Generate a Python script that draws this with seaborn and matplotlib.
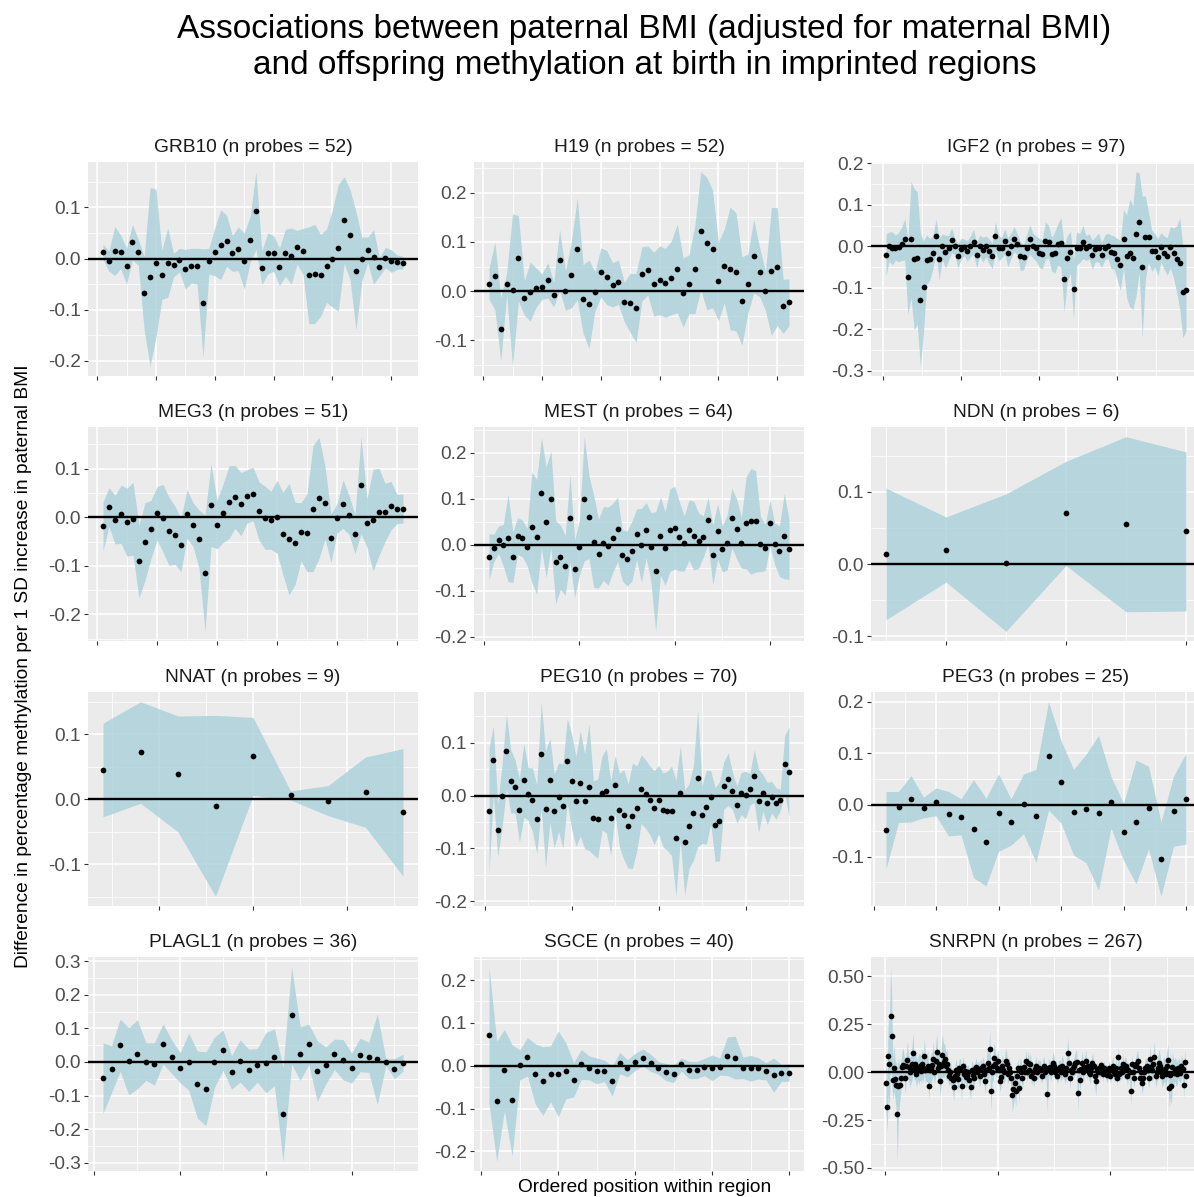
import numpy as np
import pandas as pd
import seaborn as sns
import matplotlib.pyplot as plt
from matplotlib.ticker import MultipleLocator, FormatStrFormatter, NullFormatter

# estimate (est) and 95% CI half-width (ci) per probe, ordered by position
regions = ["GRB10", "H19", "IGF2", "MEG3", "MEST", "NDN",
           "NNAT", "PEG10", "PEG3", "PLAGL1", "SGCE", "SNRPN"]

grb10_est = [0.013, -0.005, 0.015, 0.013, -0.015, 0.032, 0.012, -0.068, -0.036, -0.009,
             -0.032, -0.008, -0.013, -0.003, -0.021, -0.014, -0.015, -0.087, -0.005, 0.013,
             0.027, 0.035, 0.010, 0.019, -0.005, 0.037, 0.094, -0.018, 0.010, 0.010,
             -0.016, 0.011, 0.005, 0.022, 0.014, -0.033, -0.030, -0.033, -0.014, 0.000,
             0.021, 0.075, 0.047, -0.024, -0.001, 0.017, 0.003, -0.016, 0.002, -0.005,
             -0.007, -0.008]
grb10_ci = [0.015, 0.020, 0.048, 0.033, 0.035, 0.035, 0.025, 0.072, 0.175, 0.145,
            0.048, 0.068, 0.023, 0.023, 0.039, 0.034, 0.035, 0.106, 0.025, 0.047,
            0.068, 0.050, 0.035, 0.043, 0.055, 0.045, 0.076, 0.033, 0.040, 0.035,
            0.037, 0.046, 0.055, 0.033, 0.045, 0.095, 0.097, 0.080, 0.072, 0.095,
            0.124, 0.085, 0.088, 0.116, 0.043, 0.025, 0.053, 0.018, 0.020, 0.022,
            0.014, 0.012]

h19_est = [0.015, 0.031, -0.078, 0.015, 0.002, 0.067, -0.014, -0.001, 0.007, 0.009,
           0.022, -0.007, 0.063, 0.001, 0.033, 0.086, -0.016, -0.027, -0.001, 0.038,
           0.028, 0.013, 0.018, -0.022, -0.024, -0.034, 0.035, 0.042, 0.014, 0.022,
           0.017, 0.027, 0.046, -0.003, 0.014, 0.044, 0.123, 0.097, 0.086, 0.020,
           0.051, 0.046, 0.039, -0.020, 0.015, 0.071, 0.039, 0.000, 0.040, 0.050,
           -0.031, -0.023]
h19_ci = [0.031, 0.069, 0.065, 0.022, 0.155, 0.087, 0.035, 0.060, 0.040, 0.026,
          0.036, 0.025, 0.062, 0.040, 0.067, 0.104, 0.070, 0.090, 0.040, 0.050,
          0.055, 0.045, 0.045, 0.040, 0.060, 0.070, 0.055, 0.050, 0.065, 0.070,
          0.070, 0.075, 0.090, 0.070, 0.060, 0.090, 0.120, 0.135, 0.120, 0.080,
          0.075, 0.125, 0.120, 0.090, 0.060, 0.075, 0.050, 0.040, 0.130, 0.120,
          0.055, 0.048]

igf2_est = [-0.021, 0.000, -0.005, -0.003, -0.002, 0.006, 0.017, -0.074, 0.017, -0.031,
            -0.028, -0.129, -0.097, -0.032, -0.031, -0.015, 0.026, -0.031, 0.000, -0.013,
            -0.004, 0.015, 0.000, -0.022, -0.006, -0.002, -0.011, 0.000, 0.011, -0.021,
            0.002, -0.008, 0.000, -0.012, -0.023, 0.024, -0.005, -0.003, 0.012, -0.015,
            0.002, 0.018, 0.005, -0.024, -0.026, -0.003, 0.017, 0.002, -0.005, -0.015,
            -0.019, 0.014, 0.011, -0.019, -0.015, 0.005, 0.009, -0.078, -0.029, -0.014,
            -0.103, -0.005, -0.004, 0.011, -0.004, 0.000, -0.020, -0.007, -0.003, -0.021,
            -0.003, 0.002, -0.013, -0.015, -0.031, -0.046, 0.018, -0.024, -0.016, -0.027,
            0.030, 0.058, -0.049, 0.022, 0.022, -0.010, -0.010, -0.026, -0.002, -0.015,
            -0.024, -0.002, -0.016, -0.031, -0.041, -0.110, -0.104]
igf2_ci = [0.050, 0.035, 0.040, 0.030, 0.035, 0.040, 0.050, 0.090, 0.140, 0.170,
           0.160, 0.160, 0.110, 0.060, 0.050, 0.040, 0.040, 0.050, 0.030, 0.040,
           0.030, 0.030, 0.020, 0.030, 0.025, 0.020, 0.025, 0.025, 0.030, 0.030,
           0.025, 0.030, 0.025, 0.030, 0.030, 0.035, 0.030, 0.025, 0.030, 0.035,
           0.030, 0.030, 0.025, 0.035, 0.030, 0.030, 0.035, 0.030, 0.030, 0.035,
           0.035, 0.045, 0.040, 0.040, 0.050, 0.050, 0.060, 0.080, 0.055, 0.050,
           0.070, 0.040, 0.035, 0.040, 0.030, 0.030, 0.035, 0.030, 0.035, 0.030,
           0.030, 0.030, 0.040, 0.040, 0.050, 0.060, 0.070, 0.100, 0.130, 0.125,
           0.150, 0.120, 0.170, 0.100, 0.060, 0.050, 0.040, 0.045, 0.035, 0.040,
           0.045, 0.050, 0.060, 0.080, 0.110, 0.110, 0.100]

meg3_est = [-0.019, 0.021, -0.005, 0.006, -0.010, -0.003, -0.091, -0.050, -0.025, 0.008,
            -0.002, -0.029, -0.037, -0.057, 0.007, -0.015, -0.045, -0.115, 0.025, -0.015,
            0.008, 0.031, 0.042, 0.027, 0.043, 0.048, 0.013, -0.001, -0.006, 0.001,
            -0.034, -0.045, -0.054, -0.030, -0.032, 0.018, 0.040, 0.030, -0.043, -0.002,
            0.027, 0.005, -0.035, 0.066, -0.012, -0.006, 0.011, 0.010, 0.024, 0.017,
            0.018]
meg3_ci = [0.050, 0.040, 0.050, 0.060, 0.070, 0.075, 0.075, 0.080, 0.060, 0.055,
           0.070, 0.070, 0.060, 0.055, 0.050, 0.045, 0.060, 0.120, 0.085, 0.050,
           0.060, 0.075, 0.065, 0.065, 0.055, 0.055, 0.060, 0.065, 0.060, 0.075,
           0.085, 0.115, 0.085, 0.060, 0.080, 0.130, 0.125, 0.075, 0.050, 0.030,
           0.050, 0.040, 0.040, 0.100, 0.050, 0.105, 0.090, 0.060, 0.050, 0.030,
           0.030]

mest_est = [-0.026, -0.007, 0.011, -0.001, 0.015, -0.027, 0.019, 0.014, -0.005, 0.038,
            0.017, 0.113, 0.049, 0.099, -0.038, -0.027, -0.045, 0.058, -0.052, -0.005,
            0.100, 0.060, 0.007, -0.019, 0.003, -0.003, 0.015, 0.034, -0.023, -0.030,
            -0.014, 0.023, -0.001, 0.032, -0.005, -0.058, 0.019, -0.008, 0.032, 0.037,
            0.018, 0.003, 0.032, 0.020, 0.009, 0.018, 0.053, -0.022, 0.029, -0.009,
            0.005, 0.058, 0.035, 0.004, 0.048, 0.051, 0.051, 0.002, -0.006, 0.048,
            0.002, -0.014, 0.019, -0.010]
mest_ci = [0.050, 0.030, 0.030, 0.045, 0.095, 0.055, 0.040, 0.040, 0.040, 0.120,
           0.125, 0.120, 0.120, 0.105, 0.090, 0.070, 0.065, 0.095, 0.062, 0.060,
           0.135, 0.090, 0.100, 0.075, 0.080, 0.085, 0.075, 0.070, 0.055, 0.060,
           0.065, 0.055, 0.080, 0.060, 0.075, 0.130, 0.085, 0.080, 0.090, 0.090,
           0.075, 0.060, 0.065, 0.075, 0.060, 0.045, 0.050, 0.065, 0.060, 0.050,
           0.060, 0.065, 0.065, 0.055, 0.100, 0.115, 0.110, 0.060, 0.050, 0.050,
           0.045, 0.055, 0.093, 0.065]

ndn_est = [0.014, 0.020, 0.002, 0.070, 0.055, 0.045]
ndn_ci = [0.091, 0.045, 0.095, 0.072, 0.121, 0.110]

nnat_est = [0.045, 0.072, 0.039, -0.010, 0.066, 0.006, -0.002, 0.011, -0.020]
nnat_ci = [0.072, 0.078, 0.089, 0.139, 0.060, 0.007, 0.023, 0.054, 0.098]

peg10_est = [-0.029, 0.067, -0.066, -0.001, 0.084, 0.027, 0.017, -0.028, 0.029, 0.003,
             -0.008, -0.045, 0.078, -0.026, 0.029, -0.029, -0.003, -0.020, 0.066, 0.027,
             -0.011, 0.023, -0.011, 0.016, -0.042, -0.044, 0.005, 0.009, -0.043, 0.021,
             -0.028, -0.036, -0.058, -0.038, -0.024, 0.012, 0.003, -0.009, -0.023, -0.008,
             -0.027, -0.029, -0.029, -0.081, 0.004, -0.089, -0.058, -0.033, 0.033, -0.036,
             -0.022, -0.003, -0.055, -0.049, 0.019, 0.031, 0.009, -0.017, 0.004, 0.001,
             0.012, 0.037, -0.010, 0.005, -0.015, -0.003, -0.015, -0.008, 0.059, 0.045]
peg10_ci = [0.120, 0.065, 0.050, 0.060, 0.070, 0.060, 0.050, 0.060, 0.070, 0.050,
            0.060, 0.065, 0.100, 0.110, 0.080, 0.070, 0.065, 0.080, 0.080, 0.090,
            0.085, 0.100, 0.090, 0.120, 0.070, 0.075, 0.070, 0.080, 0.070, 0.055,
            0.070, 0.085, 0.080, 0.100, 0.080, 0.065, 0.065, 0.065, 0.070, 0.065,
            0.070, 0.075, 0.085, 0.110, 0.090, 0.100, 0.080, 0.090, 0.130, 0.055,
            0.070, 0.050, 0.070, 0.075, 0.045, 0.050, 0.035, 0.035, 0.040, 0.045,
            0.030, 0.050, 0.060, 0.035, 0.040, 0.030, 0.030, 0.020, 0.055, 0.085]

peg3_est = [-0.049, -0.004, 0.012, -0.005, 0.006, -0.017, -0.023, -0.046, -0.072, -0.015,
            -0.033, 0.002, -0.021, 0.095, 0.045, -0.014, -0.007, -0.015, 0.005, -0.052,
            -0.033, -0.005, -0.105, -0.012, 0.012]
peg3_ci = [0.075, 0.030, 0.045, 0.020, 0.027, 0.043, 0.035, 0.095, 0.085, 0.075,
           0.045, 0.058, 0.090, 0.105, 0.080, 0.083, 0.105, 0.150, 0.050, 0.055,
           0.120, 0.080, 0.072, 0.068, 0.088]

plagl1_est = [-0.048, -0.021, 0.050, 0.002, 0.023, 0.001, -0.006, 0.054, 0.016, -0.017,
              0.001, -0.067, -0.080, -0.001, 0.035, -0.031, 0.003, -0.025, -0.010, -0.002,
              0.014, -0.156, 0.139, 0.025, 0.053, -0.027, -0.010, 0.023, 0.007, -0.018,
              0.021, 0.014, 0.008, 0.000, -0.020, -0.002]
plagl1_ci = [0.105, 0.070, 0.078, 0.100, 0.103, 0.056, 0.063, 0.060, 0.050, 0.045,
             0.085, 0.100, 0.110, 0.075, 0.060, 0.050, 0.063, 0.063, 0.050, 0.090,
             0.085, 0.140, 0.145, 0.080, 0.060, 0.090, 0.055, 0.045, 0.060, 0.045,
             0.050, 0.045, 0.135, 0.010, 0.030, 0.025]

sgce_est = [0.071, -0.083, -0.010, -0.081, 0.002, 0.021, -0.019, -0.036, -0.019, -0.019,
            -0.012, -0.033, 0.003, -0.005, -0.012, -0.012, -0.036, 0.006, -0.006, 0.009,
            0.019, 0.007, -0.005, -0.015, -0.019, 0.003, -0.010, -0.010, -0.003, -0.005,
            -0.002, 0.022, 0.019, -0.005, -0.006, -0.006, -0.013, -0.022, -0.017, -0.016]
sgce_ci = [0.160, 0.140, 0.095, 0.130, 0.035, 0.045, 0.070, 0.080, 0.065, 0.100,
           0.065, 0.040, 0.035, 0.028, 0.030, 0.025, 0.035, 0.025, 0.020, 0.020,
           0.020, 0.020, 0.015, 0.020, 0.020, 0.015, 0.020, 0.020, 0.020, 0.030,
           0.020, 0.045, 0.050, 0.025, 0.030, 0.025, 0.020, 0.040, 0.020, 0.020]

snrpn_est = [-0.057, -0.182, 0.083, 0.043, 0.293, 0.190, -0.043, 0.022, -0.035, -0.068,
             -0.220, -0.071, -0.066, -0.030, 0.026, 0.038, 0.030, -0.031, 0.030, 0.062,
             0.026, 0.000, 0.012, 0.045, 0.102, 0.018, 0.043, -0.010, 0.020, 0.015,
             0.030, 0.005, 0.045, 0.020, 0.085, 0.010, 0.020, 0.030, -0.072, 0.010,
             0.020, 0.035, 0.070, 0.000, 0.060, 0.103, 0.020, 0.040, -0.045, 0.030,
             0.090, 0.055, 0.070, 0.030, 0.045, 0.010, -0.020, 0.000, -0.030, -0.040,
             -0.080, -0.020, 0.010, -0.010, -0.035, 0.020, 0.010, -0.070, 0.030, -0.010,
             0.005, -0.025, -0.020, 0.000, -0.040, -0.080, 0.010, -0.015, -0.030, 0.015,
             0.025, 0.000, 0.010, -0.020, 0.020, 0.010, 0.030, -0.010, -0.045, 0.010,
             0.050, 0.020, 0.120, -0.100, 0.000, 0.030, 0.075, 0.040, 0.020, 0.060,
             0.010, -0.045, -0.025, 0.030, 0.010, 0.000, 0.060, 0.040, -0.010, 0.020,
             0.000, -0.030, -0.120, -0.090, -0.055, -0.100, -0.020, 0.020, -0.085, 0.020,
             0.000, -0.030, 0.025, 0.000, 0.060, 0.000, 0.050, 0.010, 0.040, -0.020,
             0.000, -0.030, 0.015, 0.030, 0.000, 0.015, 0.020, 0.010, -0.020, 0.015,
             0.030, 0.000, 0.010, -0.115, 0.020, 0.025, 0.000, 0.020, 0.050, 0.030,
             0.000, 0.015, -0.020, 0.010, 0.025, 0.000, 0.030, 0.020, 0.000, -0.010,
             0.020, 0.100, 0.050, -0.030, 0.010, 0.000, 0.020, 0.030, 0.050, 0.055,
             -0.110, 0.010, -0.040, 0.015, 0.050, 0.000, 0.025, 0.060, 0.015, 0.030,
             0.000, -0.010, 0.020, 0.050, 0.030, -0.020, -0.045, 0.010, 0.000, 0.020,
             0.000, 0.035, -0.010, 0.020, 0.010, 0.000, -0.015, 0.000, 0.020, -0.020,
             0.010, 0.030, 0.000, -0.010, 0.020, -0.030, 0.080, -0.010, 0.020, 0.000,
             0.040, 0.010, 0.030, 0.030, -0.020, 0.010, 0.000, -0.100, 0.040, 0.000,
             -0.030, 0.030, 0.040, 0.060, 0.020, -0.030, 0.000, -0.055, -0.030, 0.000,
             0.020, 0.030, 0.010, -0.030, 0.070, 0.025, 0.010, 0.040, 0.080, -0.020,
             0.000, 0.020, 0.050, 0.030, 0.000, -0.020, 0.010, 0.015, -0.010, 0.030,
             0.065, -0.085, -0.015, -0.070, 0.025, -0.005, 0.015, 0.000, -0.010, 0.020,
             0.010, -0.005, 0.030, 0.015, -0.065, 0.055, -0.020]
snrpn_ci = [0.15, 0.13, 0.20, 0.22, 0.257, 0.22, 0.10, 0.12, 0.10, 0.12,
            0.245, 0.15, 0.10, 0.08, 0.07, 0.09, 0.06, 0.08, 0.07, 0.10,
            0.06, 0.08, 0.07, 0.09, 0.10, 0.06, 0.08, 0.07, 0.06, 0.08,
            0.07, 0.06, 0.08, 0.07, 0.09, 0.06, 0.07, 0.08, 0.07, 0.06,
            0.08, 0.07, 0.09, 0.06, 0.08, 0.10, 0.07, 0.09, 0.08, 0.10,
            0.11, 0.09, 0.08, 0.07, 0.08, 0.06, 0.05, 0.06, 0.05, 0.06,
            0.07, 0.05, 0.06, 0.05, 0.07, 0.05, 0.06, 0.08, 0.05, 0.06,
            0.05, 0.06, 0.05, 0.04, 0.06, 0.07, 0.05, 0.06, 0.05, 0.04,
            0.05, 0.04, 0.05, 0.06, 0.05, 0.04, 0.05, 0.06, 0.07, 0.06,
            0.08, 0.07, 0.10, 0.11, 0.06, 0.07, 0.08, 0.06, 0.05, 0.06,
            0.05, 0.06, 0.05, 0.06, 0.05, 0.06, 0.07, 0.06, 0.05, 0.06,
            0.05, 0.06, 0.09, 0.08, 0.07, 0.08, 0.06, 0.05, 0.08, 0.06,
            0.05, 0.06, 0.05, 0.04, 0.06, 0.05, 0.06, 0.05, 0.06, 0.05,
            0.04, 0.05, 0.04, 0.05, 0.04, 0.05, 0.04, 0.05, 0.04, 0.05,
            0.05, 0.04, 0.05, 0.10, 0.05, 0.04, 0.05, 0.04, 0.06, 0.05,
            0.04, 0.05, 0.04, 0.05, 0.04, 0.05, 0.06, 0.05, 0.04, 0.05,
            0.05, 0.08, 0.06, 0.05, 0.04, 0.05, 0.04, 0.05, 0.06, 0.06,
            0.09, 0.05, 0.06, 0.05, 0.06, 0.05, 0.04, 0.06, 0.05, 0.04,
            0.04, 0.05, 0.04, 0.05, 0.04, 0.05, 0.08, 0.04, 0.03, 0.04,
            0.04, 0.03, 0.04, 0.04, 0.03, 0.04, 0.04, 0.03, 0.04, 0.04,
            0.04, 0.05, 0.04, 0.04, 0.05, 0.04, 0.06, 0.04, 0.05, 0.04,
            0.05, 0.04, 0.05, 0.04, 0.05, 0.04, 0.05, 0.07, 0.05, 0.04,
            0.05, 0.04, 0.05, 0.06, 0.05, 0.05, 0.04, 0.06, 0.05, 0.04,
            0.05, 0.04, 0.05, 0.06, 0.07, 0.05, 0.06, 0.07, 0.08, 0.06,
            0.05, 0.06, 0.07, 0.06, 0.05, 0.06, 0.07, 0.06, 0.07, 0.08,
            0.08, 0.10, 0.12, 0.10, 0.08, 0.07, 0.06, 0.07, 0.06, 0.05,
            0.06, 0.05, 0.06, 0.05, 0.07, 0.06, 0.05]

series = {
    "GRB10": (grb10_est, grb10_ci), "H19": (h19_est, h19_ci),
    "IGF2": (igf2_est, igf2_ci), "MEG3": (meg3_est, meg3_ci),
    "MEST": (mest_est, mest_ci), "NDN": (ndn_est, ndn_ci),
    "NNAT": (nnat_est, nnat_ci), "PEG10": (peg10_est, peg10_ci),
    "PEG3": (peg3_est, peg3_ci), "PLAGL1": (plagl1_est, plagl1_ci),
    "SGCE": (sgce_est, sgce_ci), "SNRPN": (snrpn_est, snrpn_ci),
}

# axis break spacing per facet (x, y)
x_step = {"GRB10": 10, "H19": 10, "IGF2": 25, "MEG3": 10, "MEST": 20, "NDN": 2,
          "NNAT": 2.5, "PEG10": 20, "PEG3": 5, "PLAGL1": 10, "SGCE": 10, "SNRPN": 100}
y_step = {r: 0.1 for r in regions}
y_step["SNRPN"] = 0.25

sns.set_theme(style="darkgrid")
plt.rcParams["font.family"] = ["Liberation Sans", "DejaVu Sans"]
plt.rcParams["text.color"] = "black"

W, H = 1194, 1197
fig = plt.figure(figsize=(W / 100, H / 100), dpi=100)

col_left = [88, 474, 871]
row_top = [162, 427, 692, 957]
pw, ph = 330, 214
ribbon = "#A9D0D9"

for k, reg in enumerate(regions):
    r, c = divmod(k, 3)
    est, ci = series[reg]
    n = len(est)
    df = pd.DataFrame({"pos": np.arange(1, n + 1), "est": est, "ci": ci})
    df["lo"] = df["est"] - df["ci"]
    df["hi"] = df["est"] + df["ci"]

    ax = fig.add_axes([col_left[c] / W, 1 - (row_top[r] + ph) / H, pw / W, ph / H])
    ax.set_facecolor("#EBEBEB")
    ax.fill_between(df["pos"], df["lo"], df["hi"], color=ribbon, alpha=0.8, lw=0, zorder=2)
    ax.axhline(0, color="black", lw=1.7, zorder=3)
    sns.scatterplot(data=df, x="pos", y="est", ax=ax, color="black", s=17,
                    linewidth=0, legend=False, zorder=4)

    # ggplot-like 5% expansion of free scales
    xpad = 0.05 * (n - 1)
    ax.set_xlim(1 - xpad, n + xpad)
    lo, hi = df["lo"].min(), df["hi"].max()
    ypad = 0.05 * (hi - lo)
    ax.set_ylim(lo - ypad, hi + ypad)

    ax.xaxis.set_major_locator(MultipleLocator(x_step[reg]))
    ax.xaxis.set_minor_locator(MultipleLocator(x_step[reg] / 2))
    ax.xaxis.set_major_formatter(NullFormatter())
    ax.yaxis.set_major_locator(MultipleLocator(y_step[reg]))
    ax.yaxis.set_minor_locator(MultipleLocator(y_step[reg] / 2))
    ax.yaxis.set_major_formatter(FormatStrFormatter("%.2f" if reg == "SNRPN" else "%.1f"))

    ax.grid(which="major", color="white", lw=1.1)
    ax.grid(which="minor", color="white", lw=0.55)
    ax.set_axisbelow(True)
    for s in ax.spines.values():
        s.set_visible(False)
    ax.tick_params(which="major", length=3, width=0.8, color="#333333",
                   labelsize=13.7, labelcolor="#4D4D4D", pad=2,
                   bottom=True, left=True)
    ax.tick_params(which="minor", length=0)
    ax.set_xlabel("")
    ax.set_ylabel("")
    ax.set_title(f"{reg} (n probes = {n})", fontsize=13.8, color="#1A1A1A", pad=7)

fig.text(644.5 / W, 1 - 47.5 / H,
         "Associations between paternal BMI (adjusted for maternal BMI)\n"
         "and offspring methylation at birth in imprinted regions",
         ha="center", va="center", fontsize=24, linespacing=1.22, color="black")
fig.text(24 / W, 1 - 666 / H,
         "Difference in percentage methylation per 1 SD increase in paternal BMI",
         rotation=90, ha="center", va="center", fontsize=13.8, color="black")
fig.text(644.5 / W, 1 - 1187 / H, "Ordered position within region",
         ha="center", va="center", fontsize=13.8, color="black")

fig.savefig("out.png", dpi=100)
